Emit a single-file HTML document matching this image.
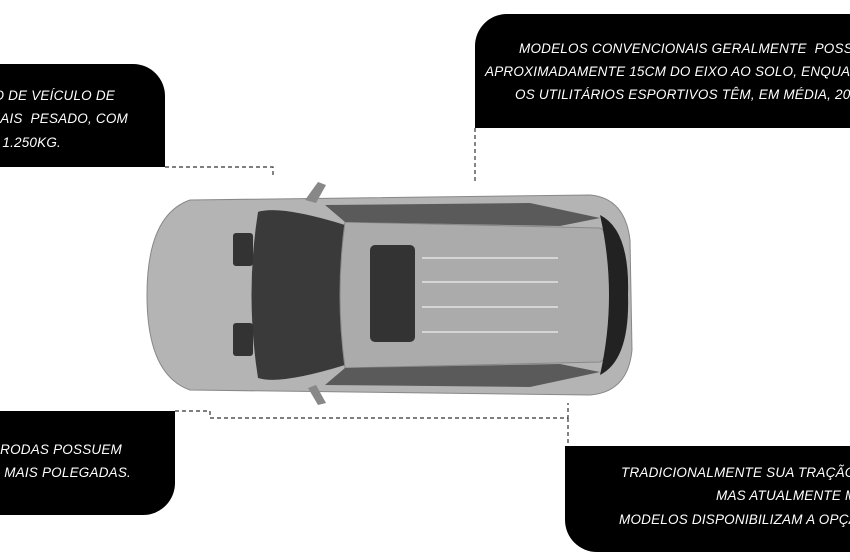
<!DOCTYPE html>
<html><head><meta charset="utf-8"><style>
html,body{margin:0;padding:0;background:#fff;width:850px;height:560px;overflow:hidden;position:relative}
.box{position:absolute;background:#000;overflow:hidden;color:#fff;font-family:"Liberation Sans",sans-serif;font-style:italic;font-size:13.5px;letter-spacing:0.2px}
.box div{position:absolute;white-space:nowrap}
svg{position:absolute;left:0;top:0}
</style></head><body>
<div class="box" style="left:0;top:64px;width:165px;height:103px;border-top-right-radius:32px">
<div style="right:50px;top:24px">TIPO DE VEÍCULO DE</div>
<div style="right:37px;top:47px">É MAIS&nbsp; PESADO, COM</div>
<div style="right:104px;top:71px">1.250KG.</div>
</div>
<div class="box" style="left:475px;top:14px;width:375px;height:114px;border-top-left-radius:32px">
<div style="left:44px;top:27px">MODELOS CONVENCIONAIS GERALMENTE&nbsp; POSSUEM</div>
<div style="left:10px;top:50px">APROXIMADAMENTE 15CM DO EIXO AO SOLO, ENQUANTO</div>
<div style="left:40px;top:73px">OS UTILITÁRIOS ESPORTIVOS TÊM, EM MÉDIA, 20CM.</div>
</div>
<div class="box" style="left:0;top:411px;width:175px;height:104px;border-bottom-right-radius:32px">
<div style="right:53px;top:31px">AS RODAS POSSUEM</div>
<div style="right:44px;top:54px">OU MAIS POLEGADAS.</div>
</div>
<div class="box" style="left:565px;top:446px;width:285px;height:106px;border-bottom-left-radius:32px">
<div style="left:56px;top:19px">TRADICIONALMENTE SUA TRAÇÃO É 4X2,</div>
<div style="left:151px;top:42px">MAS ATUALMENTE MUITOS</div>
<div style="left:54px;top:66px">MODELOS DISPONIBILIZAM A OPÇÃO 4X4.</div>
</div>
<svg width="850" height="560">
<g fill="none" stroke="#333" stroke-width="1.2" stroke-dasharray="4,3">
<path d="M165 167 H273 V178"/>
<path d="M475 128 V182"/>
<path d="M175 411 H210 V418 H568 V403"/>
<path d="M568 418 V446"/>
</g>
<path d="M147 295 Q147 215 190 200 L590 195 Q625 198 630 240 L632 350 Q628 392 590 395 L190 390 Q147 375 147 295 Z" fill="#b4b4b4" stroke="#888"/>
<path d="M258 212 Q280 205 345 225 L345 365 Q280 385 258 378 Q245 295 258 212 Z" fill="#3a3a3a"/>
<path d="M345 222 L600 228 Q615 235 612 295 Q615 355 600 362 L345 368 Q335 295 345 222 Z" fill="#ababab" stroke="#888"/>
<rect x="370" y="245" width="45" height="97" rx="5" fill="#333"/>
<path d="M325 205 L530 203 L600 218 L560 226 L345 222 Z" fill="#5a5a5a"/>
<path d="M325 385 L530 387 L600 372 L560 364 L345 368 Z" fill="#5a5a5a"/>
<path d="M600 215 Q630 230 628 295 Q630 360 600 375 Q618 295 600 215 Z" fill="#222"/>
<g stroke="#eee" stroke-width="1.2"><line x1="422" y1="258" x2="558" y2="258"/><line x1="422" y1="282" x2="558" y2="282"/><line x1="422" y1="307" x2="558" y2="307"/><line x1="422" y1="332" x2="558" y2="332"/></g>
<rect x="233" y="233" width="20" height="33" rx="3" fill="#333"/>
<rect x="233" y="323" width="20" height="33" rx="3" fill="#333"/>
<path d="M305 200 L318 182 L326 185 L316 203 Z" fill="#888"/>
<path d="M308 388 L318 405 L326 403 L316 385 Z" fill="#888"/>
</svg>
</body></html>
